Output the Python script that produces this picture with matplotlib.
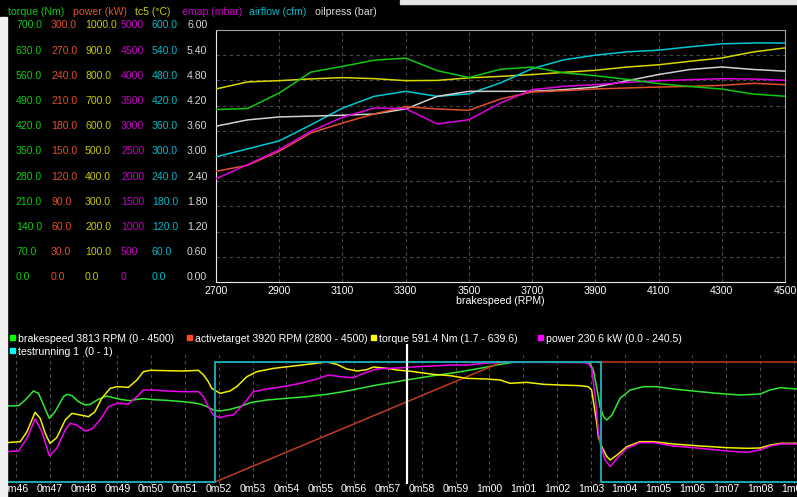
import matplotlib
matplotlib.use('Agg')
import matplotlib.pyplot as plt
from matplotlib import transforms
from matplotlib.patches import Rectangle

W, H = 797, 497
plt.rcParams['font.family'] = ['Liberation Sans', 'DejaVu Sans']
FS = 7.6

# ---- dyno sweep, upper chart (values per 100 RPM) ----
rpm = [2700, 2800, 2900, 3000, 3100, 3200, 3300, 3400, 3500, 3600,
       3700, 3800, 3900, 4000, 4100, 4200, 4300, 4400, 4500]
torque_nm = [479, 482, 525, 583, 599, 616, 622, 587, 568, 591,
             597, 581, 573, 563, 551, 543, 536, 522, 516]
power_kw = [131.8, 138.9, 155.6, 177.4, 189.3, 200.0, 208.7, 206.0, 204.4, 217.9,
            226.2, 227.7, 229.8, 231.0, 232.1, 232.9, 234.1, 236.5, 234.9]
tc5_c = [766, 794, 799, 806, 811, 807, 799, 800, 810, 816,
         823, 832, 840, 853, 862, 876, 889, 913, 929]
emap_mbar = [2050, 2328, 2625, 2990, 3268, 3452, 3440, 3135, 3220, 3552,
             3815, 3883, 3915, 3962, 3994, 4014, 4034, 4027, 4002]
airflow_cfm = [298, 317, 336, 374, 414, 442, 454, 442, 448, 474,
               508, 529, 540, 548, 552, 560, 567, 569, 569]
oilpress_bar = [3.71, 3.86, 3.93, 3.95, 3.97, 4.00, 4.12, 4.42, 4.54, 4.54,
                4.54, 4.58, 4.64, 4.79, 4.94, 5.06, 5.12, 5.06, 5.02]

# ---- time log, lower chart (t in seconds) ----
brake_t = [45.73, 46.08, 46.28, 46.52, 46.67, 46.82, 46.99, 47.16, 47.41, 47.51,
           47.66, 47.85, 48.05, 48.2, 48.44, 48.69, 48.84, 49.08, 49.38, 49.58,
           49.77, 50.07, 50.46, 50.96, 51.35, 51.5, 51.65, 51.84, 52.04, 52.33,
           52.63, 52.93, 53.42, 54.0, 54.6, 55.19, 55.68, 56.18, 56.67, 57.16,
           57.36, 57.85, 58.34, 58.84, 59.33, 59.82, 60.32, 60.71, 61.3, 62.88,
           62.96, 63.07, 63.17, 63.27, 63.37, 63.47, 63.62, 63.86, 64.16, 64.55,
           64.94, 65.44, 66.03, 66.72, 67.41, 68.0, 68.29, 68.59, 69.1]
brake_rpm = [2850, 2862, 3075, 3412, 3325, 2887, 2387, 2637, 3200, 3287,
             3237, 3012, 2887, 2912, 3100, 3225, 3175, 3100, 3050, 3100,
             3125, 3087, 3062, 3012, 2950, 2900, 2825, 2700, 2662, 2725,
             2825, 2975, 3075, 3137, 3200, 3287, 3387, 3512, 3637, 3737,
             3787, 3887, 3987, 4075, 4175, 4287, 4412, 4487, 4500, 4500,
             4475, 4200, 3550, 2825, 2450, 2325, 2512, 3137, 3450, 3575,
             3575, 3487, 3412, 3325, 3262, 3300, 3450, 3537, 3487]

target_t = [45.74, 51.89, 60.37, 69.1]
target_rpm = [2800, 2800, 4500, 4500]

torque_t = [45.73, 46.13, 46.33, 46.57, 46.72, 46.87, 47.01, 47.21, 47.46, 47.66,
            47.9, 48.15, 48.34, 48.54, 48.79, 48.99, 49.33, 49.58, 49.77, 49.97,
            50.46, 50.96, 51.4, 51.55, 51.69, 51.79, 52.04, 52.33, 52.53, 52.83,
            53.12, 53.62, 54.21, 54.7, 55.19, 55.49, 55.78, 56.08, 56.37, 56.57,
            56.97, 57.26, 57.66, 58.34, 58.84, 59.33, 59.92, 60.32, 60.61, 61.1,
            61.6, 62.09, 62.67, 62.92, 63.02, 63.12, 63.17, 63.22, 63.32, 63.47,
            63.57, 63.77, 64.06, 64.45, 64.85, 65.44, 66.23, 67.02, 67.61, 68.0,
            68.3, 68.59, 69.1]
torque_trace = [210.8, 216.1, 269.2, 372.1, 340.2, 260.4, 207.2, 237.4, 331.3, 366.7,
                357.9, 349.0, 375.6, 446.5, 499.6, 508.5, 504.9, 543.9, 588.2, 595.3,
                593.5, 591.8, 595.3, 570.5, 535.0, 499.6, 473.0, 485.4, 508.5, 561.6,
                588.2, 605.9, 618.3, 629.0, 639.6, 627.2, 602.4, 591.8, 598.8, 613.0,
                605.9, 597.1, 590.5, 574.0, 566.9, 552.8, 549.2, 543.9, 526.2, 531.5,
                520.9, 517.3, 513.8, 508.5, 490.0, 375.0, 320.0, 240.0, 189.5, 136.4,
                118.6, 145.2, 189.5, 216.1, 216.1, 203.7, 193.1, 184.2, 180.7, 182.4,
                198.4, 207.2, 207.2]

power_t = [45.73, 46.08, 46.33, 46.57, 46.77, 46.99, 47.21, 47.46, 47.61, 47.8,
           48.05, 48.25, 48.49, 48.74, 48.99, 49.33, 49.58, 49.77, 50.07, 50.46,
           50.96, 51.4, 51.55, 51.69, 51.84, 52.04, 52.24, 52.43, 52.73, 53.02,
           53.42, 53.91, 54.4, 54.9, 55.24, 55.59, 55.98, 56.28, 56.67, 57.06,
           57.45, 57.85, 58.34, 58.84, 59.33, 59.82, 60.32, 60.81, 61.79, 62.77,
           62.92, 63.02, 63.12, 63.22, 63.27, 63.42, 63.57, 63.77, 64.06, 64.45,
           64.85, 65.44, 66.23, 67.02, 67.61, 68.0, 68.3, 68.59, 69.1]
power_trace = [60.8, 62.1, 87.5, 126.3, 100.9, 52.8, 67.5, 104.2, 117.6, 114.2,
               102.2, 106.2, 124.3, 151.0, 157.7, 156.3, 171.0, 184.4, 184.4, 182.4,
               181.0, 181.0, 171.0, 151.0, 134.3, 128.9, 132.9, 134.3, 155.7, 181.0,
               186.4, 191.1, 197.7, 206.4, 214.4, 211.1, 209.1, 217.8, 226.5, 227.8,
               229.1, 231.1, 232.5, 234.5, 234.5, 237.8, 239.8, 239.8, 239.8, 239.2,
               237.8, 227.8, 174.4, 100.9, 77.5, 44.1, 30.7, 47.4, 67.5, 78.8,
               78.8, 72.2, 67.5, 62.1, 59.5, 64.1, 72.2, 76.2, 76.2]

testrun_t = [45.74, 51.89, 63.30, 69.1]
testrun_v = [0, 1, 0, 0]

cursor_t = 57.55
time_ticks = list(range(46, 70))


def fx(px):
    return px / W


def fy(py):
    return 1 - py / H


fig = plt.figure(figsize=(W / 100, H / 100), dpi=100, facecolor='black')

# ── upper chart ─────────────────────────────────────────
ax = fig.add_axes([fx(216), fy(282), 569 / W, 252 / H], facecolor='black')
ax.set_xlim(2700, 4500)
ax.set_ylim(0, 10)
ax.set_xticks(range(2700, 4501, 200))
ax.set_yticks(range(0, 11))
ax.set_yticklabels([])
ax.tick_params(axis='both', length=0, colors='white', labelsize=FS, pad=3)
ax.tick_params(axis='y', pad=0)
ax.grid(True, color='#484848', linestyle=(0, (3, 3)), linewidth=0.8)
ax.set_xlabel('brakespeed (RPM)', color='white', fontsize=FS, labelpad=0)
for side in ['left', 'bottom']:
    ax.spines[side].set_color('#e8e8e8')
for side in ['top', 'right']:
    ax.spines[side].set_color('#a0a0a0')

upper = [
    # values, axis max, label fmt, line colour, label colour, label x, header, header x
    (tc5_c, 1000, '{:.1f}', '#d8d800', '#c8c800', 85, 'tc5 (°C)', 135),
    (airflow_cfm, 600, '{:.1f}', '#00c8d2', '#00b8c8', 152, 'airflow (cfm)', 249),
    (oilpress_bar, 6, '{:.2f}', '#d0d0d0', '#d8d8d8', 187, 'oilpress (bar)', 315),
    (power_kw, 300, '{:.1f}', '#e0502a', '#e0502a', 51, 'power (kW)', 73),
    (emap_mbar, 5000, '{:.0f}', '#e000e0', '#c800c8', 121, 'emap (mbar)', 182),
    (torque_nm, 700, '{:.1f}', '#10c810', '#10c810', 16, 'torque (Nm)', 8),
]
for vals, vmax, fmt, lc, tc, lx, head, hx in upper:
    tw = ax.twinx()
    tw.set_ylim(0, vmax)
    tw.axis('off')
    tw.plot(rpm, vals, color=lc, linewidth=1.1)
    trans = transforms.offset_copy(
        transforms.blended_transform_factory(fig.transFigure, tw.transData),
        x=0, y=4.5, units='dots')
    for i in range(11):
        v = vmax * i / 10
        fig.text(fx(lx), v, fmt.format(v), transform=trans, color=tc,
                 fontsize=FS, ha='left', va='center')
    fig.text(fx(hx), fy(12), head, color=tc, fontsize=FS, ha='left', va='center')

# ── lower chart ─────────────────────────────────────────
top_px, bot_px = 355, 484
axb = fig.add_axes([fx(7), fy(bot_px), 790 / W, (bot_px - top_px) / H], facecolor='black')
axb.set_xlim(45.74, 69.09)
axb.set_xticks(time_ticks)
axb.set_xticklabels([f'{s // 60}m{s % 60:02d}' for s in time_ticks])
axb.set_yticks([])
axb.tick_params(axis='x', length=0, colors='white', labelsize=FS, pad=0)
axb.grid(True, axis='x', color='#505050', linestyle=(0, (3, 3)), linewidth=0.8)
for s in axb.spines.values():
    s.set_visible(False)

lower = [
    (brake_t, brake_rpm, 0, 4500, '#30e830'),
    (target_t, target_rpm, 2800, 4500, '#c03c20'),
    (torque_t, torque_trace, 1.7, 639.6, '#f0f000'),
    (power_t, power_trace, 0.0, 240.5, '#f000f0'),
]
hi_px, lo_px = 362, 482
for tt, vv, lo, hi, c in lower:
    tw = axb.twinx()
    span = hi - lo
    tw.set_ylim(lo - span * (bot_px - lo_px) / 120, hi + span * (hi_px - top_px) / 120)
    tw.axis('off')
    tw.plot(tt, vv, color=c, linewidth=1.1)

tw = axb.twinx()
tw.set_ylim(0 - (bot_px - lo_px) / 120, 1 + (hi_px - top_px) / 120)
tw.axis('off')
tw.plot(testrun_t, testrun_v, color='#18a8b0', linewidth=1.4, drawstyle='steps-post')
tw.axvline(cursor_t, ymin=(bot_px - 483) / (bot_px - top_px),
           ymax=(bot_px - 345) / (bot_px - top_px), color='white',
           linewidth=1.6, clip_on=False)

# legend of the log
legend = [
    (9.5, 339, '#00ff00', 'brakespeed 3813 RPM (0 - 4500)'),
    (187, 339, '#ff4a20', 'activetarget 3920 RPM (2800 - 4500)'),
    (371, 339, '#ffff00', 'torque 591.4 Nm (1.7 - 639.6)'),
    (538, 339, '#ff00ff', 'power 230.6 kW (0.0 - 240.5)'),
    (9.5, 352, '#00ffff', 'testrunning 1  (0 - 1)'),
]
for lx, ly, c, label in legend:
    fig.patches.append(Rectangle((fx(lx), fy(ly + 1)), 5 / W, 5 / H, color=c,
                                 transform=fig.transFigure))
    fig.text(fx(lx + 8), fy(ly), label, color='white', fontsize=FS,
             ha='left', va='center')

# window edges
fig.patches.append(Rectangle((0, 0), 7 / W, fy(17), color='#f0f0f0',
                             transform=fig.transFigure, zorder=100))
fig.patches.append(Rectangle((fx(400), fy(4)), 397 / W, 4 / H, color='#e4e4e4',
                             transform=fig.transFigure, zorder=100))

fig.savefig('out.png', dpi=100, facecolor='black')
